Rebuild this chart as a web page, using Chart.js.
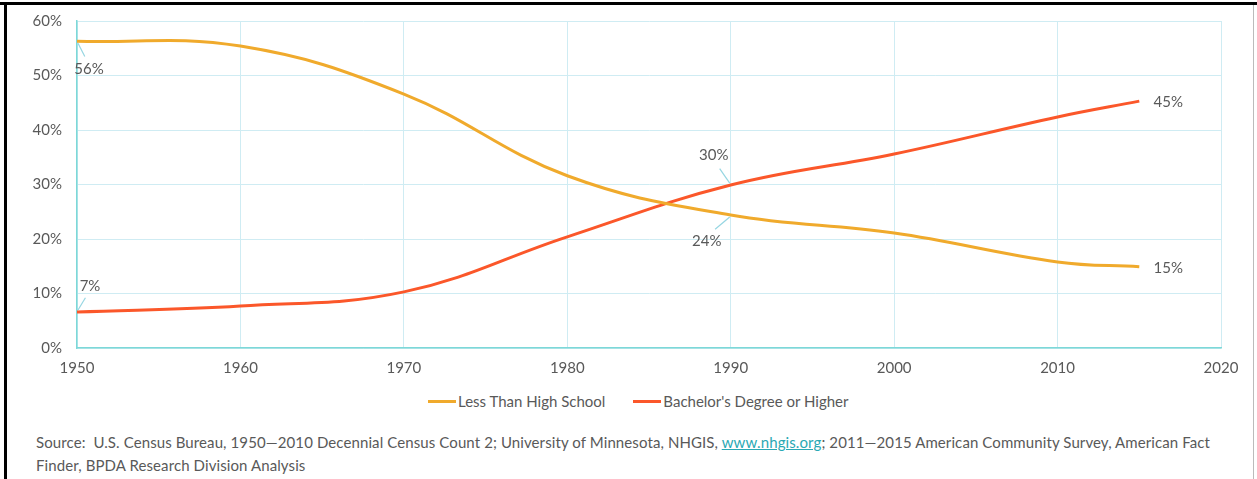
<!DOCTYPE html>
<html>
<head>
<meta charset="utf-8">
<script src="https://cdn.jsdelivr.net/npm/chart.js@4"></script>
<style>
  html, body { margin: 0; padding: 0; background: #fff; }
  body { width: 1257px; height: 479px; position: relative; overflow: hidden; font-family: Lato, "Open Sans", sans-serif; }
  #topbar { position: absolute; left: 0; top: 2px; width: 1257px; height: 3px; background: #000; }
  #leftbar { position: absolute; left: 4px; top: 2px; width: 3px; height: 477px; background: #000; }
  #rightline { position: absolute; left: 1253px; top: 5px; width: 1px; height: 474px; background: #bbb; }
  #wrap { position: absolute; left: 8px; top: 5px; width: 1245px; height: 380px; }
  #legend { position: absolute; left: 428px; top: 392px; display: flex; align-items: center; font-size: 15px; color: #595959; white-space: nowrap; }
  #legend .item { display: flex; align-items: center; margin-right: 28px; }
  #legend .swatch { display: inline-block; width: 28px; height: 3px; margin-right: 2px; }
  #source { position: absolute; left: 36px; top: 431px; width: 1210px; font-size: 15px; letter-spacing: 0.1px; line-height: 23px; color: #595959; }
  #source a { color: #2aa9b4; text-decoration: underline; }
</style>
</head>
<body>
<div id="topbar"></div>
<div id="leftbar"></div>
<div id="rightline"></div>
<div id="wrap"><canvas id="lineChart" width="1245" height="380"></canvas></div>
<div id="legend"></div>
<div id="source">Source:&nbsp; U.S. Census Bureau, 1950—2010 Decennial Census Count 2; University of Minnesota, NHGIS, <a>www.nhgis.org</a>; 2011—2015 American Community Survey, American Fact<br>Finder, BPDA Research Division Analysis</div>
<script>
const years = [1950, 1960, 1970, 1980, 1990, 2000, 2010, 2015];
const lessThanHighSchool = [56.3, 55.4, 46.6, 31.6, 24.4, 21.1, 15.8, 14.9];
const bachelorsOrHigher = [6.6, 7.7, 10.3, 20.4, 29.9, 35.6, 42.4, 45.3];
const seriesNames = ['Less Than High School', "Bachelor's Degree or Higher"];
const yTicks = [0, 10, 20, 30, 40, 50, 60];
const xTicks = [1950, 1960, 1970, 1980, 1990, 2000, 2010, 2020];

const textColor = '#595959';
const colors = ['#f0aa2c', '#fb572a'];

// which points get a value label, and where it goes relative to the point
const labelSpots = [
  [{ i: 0, dx: 12, dy: 28, lead: true }, { i: 4, dx: -24, dy: 26, lead: true }, { i: 7, dx: 29, dy: 1, lead: false }],
  [{ i: 0, dx: 13, dy: -26, lead: true }, { i: 4, dx: -17, dy: -30, lead: true }, { i: 7, dx: 29, dy: 1, lead: false }],
];

const valueLabels = {
  id: 'valueLabels',
  afterDatasetsDraw(chart) {
    const ctx = chart.ctx;
    const xs = chart.scales.x, ys = chart.scales.y;
    ctx.save();
    ctx.font = '15px Lato';
    ctx.fillStyle = textColor;
    ctx.textAlign = 'center';
    ctx.textBaseline = 'middle';
    chart.data.datasets.forEach((ds, d) => {
      labelSpots[d].forEach(s => {
        const pt = ds.data[s.i];
        const px = xs.getPixelForValue(pt.x), py = ys.getPixelForValue(pt.y);
        const tx = px + s.dx, ty = py + s.dy;
        if (s.lead) {
          ctx.strokeStyle = '#96d6e2';
          ctx.lineWidth = 1.2;
          ctx.beginPath();
          ctx.moveTo(px + Math.sign(s.dx) * 1, py + Math.sign(s.dy) * 2);
          ctx.lineTo(tx - s.dx * 0.35, ty - s.dy * 0.45);
          ctx.stroke();
        }
        ctx.fillText(Math.round(pt.y) + '%', tx, ty);
      });
    });
    ctx.restore();
  }
};

const ctx = document.getElementById('lineChart').getContext('2d');

const chart = new Chart(ctx, {
  type: 'line',
  data: {
    datasets: [lessThanHighSchool, bachelorsOrHigher].map((vals, index) => ({
      label: seriesNames[index],
      data: years.map((y, k) => ({ x: y, y: vals[k] })),
      borderColor: colors[index],
      backgroundColor: colors[index],
      borderWidth: 3,
      pointRadius: 0,
      tension: 0.4,
      fill: false,
    })),
  },
  options: {
    responsive: false,
    animation: false,
    layout: { padding: { top: 16, right: 32, left: 0, bottom: 0 } },
    scales: {
      x: {
        type: 'linear',
        min: 1950,
        max: 2020,
        afterBuildTicks: s => { s.ticks = xTicks.map(v => ({ value: v })); },
        afterFit: s => { s.height = 37; },
        grid: { color: '#cfecf3', drawTicks: false },
        border: { color: '#7dd8d8', width: 1.5 },
        ticks: { color: textColor, font: { family: 'Lato', size: 15 }, padding: 11, maxRotation: 0, callback: v => String(v) },
      },
      y: {
        min: 0,
        max: 60,
        afterBuildTicks: s => { s.ticks = yTicks.map(v => ({ value: v })); },
        afterFit: s => { s.width = 69; s.paddingTop = 0; s.paddingBottom = 0; },
        grid: { color: '#cfecf3', drawTicks: false },
        border: { color: '#7dd8d8', width: 1.5 },
        ticks: { color: textColor, font: { family: 'Lato', size: 15 }, padding: 15, callback: v => v + '%' },
      },
    },
    plugins: {
      legend: { display: false },
      tooltip: { enabled: false },
    },
  },
  plugins: [valueLabels],
});

// legend below the chart, built from the datasets
const legendEl = document.getElementById('legend');
chart.data.datasets.forEach(ds => {
  const item = document.createElement('span');
  item.className = 'item';
  const sw = document.createElement('span');
  sw.className = 'swatch';
  sw.style.background = ds.borderColor;
  item.appendChild(sw);
  item.appendChild(document.createTextNode(ds.label));
  legendEl.appendChild(item);
});
</script>
</body>
</html>
